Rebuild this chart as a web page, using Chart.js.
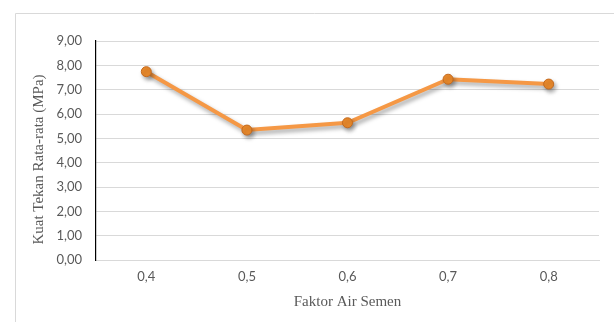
<!DOCTYPE html>
<html>
<head>
<meta charset="utf-8">
<script src="https://cdn.jsdelivr.net/npm/chart.js@4/dist/chart.umd.min.js"></script>
<style>
  html, body { margin: 0; padding: 0; background: #ffffff; }
  #wrap { width: 614px; height: 322px; position: relative; }
</style>
</head>
<body>
<div id="wrap"><canvas id="c" width="614" height="322"></canvas></div>
<script>
// Water-cement ratio categories and average compressive strength (MPa)
const categories = ['0,4', '0,5', '0,6', '0,7', '0,8'];
const strength = [7.74, 5.34, 5.64, 7.43, 7.23];
const yTicks = { min: 0, max: 9, step: 1 };
const yTitle = 'Kuat Tekan Rata-rata (MPa)';
const xTitle = 'Faktor Air Semen';

// Thin frame around the chart, a soft drop shadow under the line,
// and the vertical axis title (set slightly below the plot centre)
const framePlugin = {
  id: 'frame',
  beforeDraw(chart) {
    const ctx = chart.ctx;
    ctx.save();
    ctx.strokeStyle = '#d9d9d9';
    ctx.lineWidth = 1;
    ctx.beginPath();
    ctx.moveTo(15.5, 322);
    ctx.lineTo(15.5, 13.5);
    ctx.lineTo(614, 13.5);
    ctx.stroke();
    ctx.restore();
  },
  beforeDatasetsDraw(chart) {
    const ctx = chart.ctx;
    ctx.save();
    ctx.shadowColor = 'rgba(0,0,0,0.35)';
    ctx.shadowBlur = 4;
    ctx.shadowOffsetX = 2;
    ctx.shadowOffsetY = 3;
  },
  afterDatasetsDraw(chart) {
    chart.ctx.restore();
  },
  afterDraw(chart) {
    const ctx = chart.ctx;
    const area = chart.chartArea;
    ctx.save();
    ctx.translate(39, (area.top + area.bottom) / 2 + 9);
    ctx.rotate(-Math.PI / 2);
    ctx.fillStyle = '#595959';
    ctx.font = '15px "Liberation Serif"';
    ctx.textAlign = 'center';
    ctx.textBaseline = 'middle';
    ctx.fillText(yTitle, 0, 0);
    ctx.restore();
  }
};

new Chart(document.getElementById('c'), {
  type: 'line',
  data: {
    labels: categories,
    datasets: [{
      data: strength,
      borderColor: '#F59845',
      borderWidth: 4,
      tension: 0,
      pointRadius: 5,
      pointHoverRadius: 5,
      pointBackgroundColor: '#EA8A2C',
      pointBorderColor: '#C46A1E',
      pointBorderWidth: 1
    }]
  },
  options: {
    responsive: false,
    animation: false,
    events: [],
    layout: { padding: { left: 0, right: 15, top: 41, bottom: 0 } },
    plugins: {
      legend: { display: false },
      tooltip: { enabled: false }
    },
    scales: {
      x: {
        offset: true,
        grid: { display: false, drawTicks: false },
        border: { display: true, color: '#d9d9d9', width: 1 },
        ticks: {
          color: '#595959',
          font: { family: 'Lato', size: 13 },
          padding: 9
        },
        title: {
          display: true,
          text: xTitle,
          color: '#595959',
          font: { family: 'Liberation Serif', size: 15 },
          padding: { top: 0, bottom: 11 }
        },
        afterFit(scale) { scale.height = 62; }
      },
      y: {
        min: yTicks.min,
        max: yTicks.max,
        grid: { color: '#d9d9d9', lineWidth: 1, drawTicks: false },
        border: { display: true, color: '#000000', width: 1.2 },
        ticks: {
          stepSize: yTicks.step,
          color: '#595959',
          font: { family: 'Lato', size: 13 },
          padding: 14,
          callback: v => Number(v).toFixed(2).replace('.', ',')
        },
        title: { display: false },
        afterFit(scale) { scale.width = 96; }
      }
    }
  },
  plugins: [framePlugin]
});
</script>
</body>
</html>
